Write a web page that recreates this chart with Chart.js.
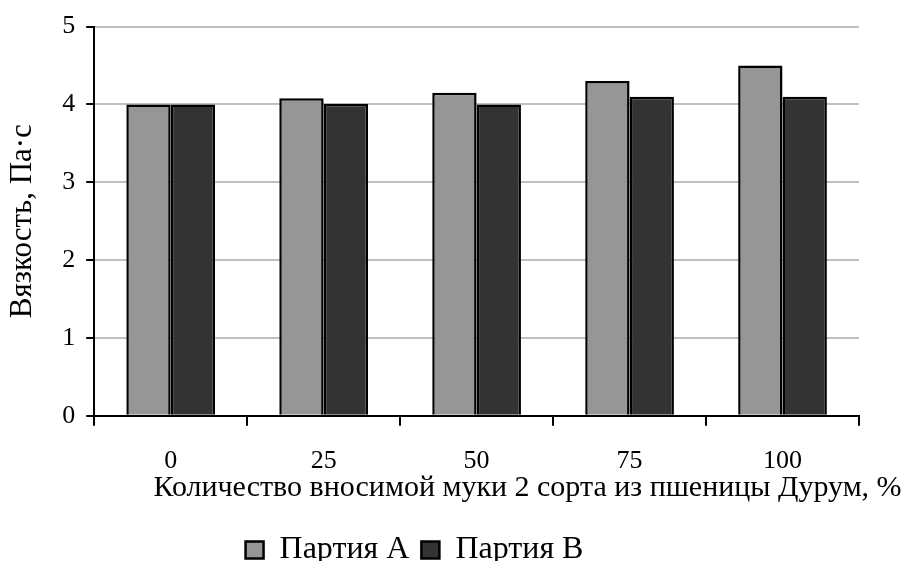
<!DOCTYPE html>
<html>
<head>
<meta charset="utf-8">
<script src="https://cdn.jsdelivr.net/npm/chart.js@4"></script>
<style>
  html, body { margin: 0; padding: 0; background: #fff; }
  #wrap { width: 919px; height: 561px; }
</style>
</head>
<body>
<div id="wrap"><canvas id="chart"></canvas></div>
<script>
// data
const categories = ['0', '25', '50', '75', '100'];
const seriesA = [4.0, 4.08, 4.15, 4.3, 4.5];
const seriesB = [4.0, 4.01, 4.0, 4.1, 4.1];
const seriesNames = ['Партия А', 'Партия В'];
const yTicks = [0, 1, 2, 3, 4, 5];
const yTitle = 'Вязкость, Па·с';
const xTitle = 'Количество вносимой муки 2 сорта из пшеницы Дурум, %';

const font = 'Liberation Serif';
Chart.defaults.font.family = font;
Chart.defaults.color = '#000';

// legend and x title are not centred in the original, nudge them
const boxShift = {
  id: 'boxShift',
  afterLayout(chart) {
    chart.legend.left -= 17;
    chart.legend.right -= 17;
    chart.titleBlock.left += 96;
    chart.titleBlock.right += 96;
  }
};

new Chart(document.getElementById('chart'), {
  type: 'bar',
  data: {
    labels: categories,
    datasets: [
      { label: seriesNames[0], data: seriesA, backgroundColor: '#969696', borderColor: '#000', borderWidth: 2.5 },
      { label: seriesNames[1], data: seriesB, backgroundColor: '#333333', borderColor: '#000', borderWidth: 2.5 }
    ]
  },
  options: {
    responsive: true,
    maintainAspectRatio: false,
    animation: false,
    categoryPercentage: 0.58,
    barPercentage: 1.0,
    layout: { padding: { left: 4, right: 60, top: 9, bottom: -15 } },
    plugins: {
      tooltip: { enabled: false },
      title: {
        display: true,
        position: 'bottom',
        weight: 500,
        text: xTitle,
        font: { size: 30, weight: 'normal' },
        color: '#000',
        padding: { top: -27, bottom: 16 }
      },
      legend: {
        position: 'bottom',
        labels: {
          font: { size: 32 },
          boxWidth: 18,
          boxHeight: 17,
          padding: 12,
          color: '#000'
        }
      }
    },
    scales: {
      x: {
        border: { color: '#000', width: 2 },
        grid: { offset: true, drawOnChartArea: false, color: '#000', tickColor: '#000', tickLength: 10, lineWidth: 2 },
        ticks: { font: { size: 26 }, padding: 20, color: '#000' }
      },
      y: {
        min: 0,
        max: 5,
        afterBuildTicks(axis) { axis.ticks = yTicks.map(v => ({ value: v })); },
        border: { color: '#000', width: 2 },
        grid: { color: '#c0c0c0', lineWidth: 2, tickColor: '#000', tickLength: 8 },
        ticks: { font: { size: 26 }, padding: 11, color: '#000' },
        title: { display: true, text: yTitle, font: { size: 31 }, color: '#000', padding: { top: 0, bottom: 10 } }
      }
    }
  },
  plugins: [boxShift]
});
</script>
</body>
</html>
